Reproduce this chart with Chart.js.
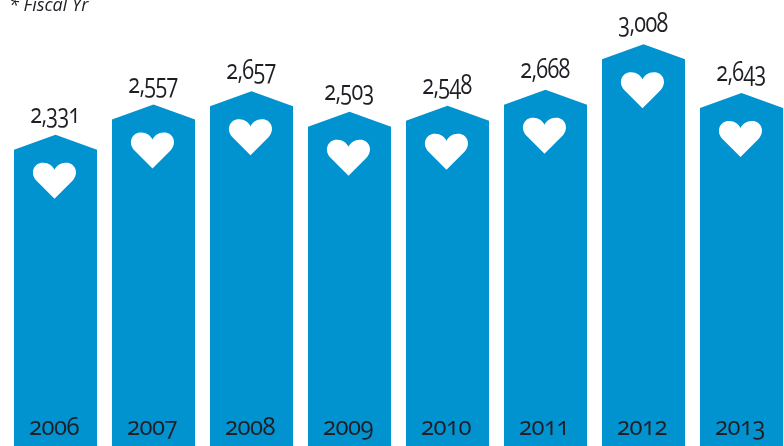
<!DOCTYPE html>
<html>
<head>
<meta charset="utf-8">
<title>Fiscal year totals</title>
<style>
  html, body { margin: 0; padding: 0; background: #fff; overflow: hidden; }
  #wrap { position: relative; width: 784px; height: 446px; overflow: hidden; }
  #mycanvas { position: absolute; left: 0; top: 0; }
  .txt {
    position: absolute;
    font-family: "Open Sans", sans-serif;
    font-feature-settings: "onum" 1, "lnum" 0;
    color: #1f1e24;
    white-space: nowrap;
  }
  .val { font-size: 27px; line-height: 30px; letter-spacing: -0.8px; transform: translateX(-50%) scaleX(0.8); }
  .year { font-size: 26px; line-height: 30px; letter-spacing: -0.6px; top: 410px; transform: translateX(-50%) scaleX(0.92); }
  #note { position: absolute; left: 9px; top: -6px; font: italic 18px/20px "Open Sans", sans-serif; color: #1f1e24; }
</style>
<script src="https://cdn.jsdelivr.net/npm/chart.js@4/dist/chart.umd.min.js"></script>
</head>
<body>
<div id="wrap">
  <canvas id="mycanvas" width="797" height="446"></canvas>
  <div id="note">* Fiscal Yr</div>
</div>
<script>
var years = ["2006", "2007", "2008", "2009", "2010", "2011", "2012", "2013"];
var totals = [2331, 2557, 2657, 2503, 2548, 2668, 3008, 2643];
var valueLabels = ["2,331", "2,557", "2,657", "2,503", "2,548", "2,668", "3,008", "2,643"];

var BLUE = "#0093d0";
var ROOF = 15;

// bar with a pitched roof and a heart cut out below it
class HouseBar extends Chart.BarElement {
	static id = "houseBar";
	draw(ctx) {
		var p = this.getProps(["x", "y", "base", "width"]);
		var l = p.x - p.width / 2, r = p.x + p.width / 2;
		ctx.save();
		ctx.fillStyle = this.options.backgroundColor;
		ctx.beginPath();
		ctx.moveTo(l, p.base);
		ctx.lineTo(l, p.y + ROOF);
		ctx.lineTo(p.x, p.y);
		ctx.lineTo(r, p.y + ROOF);
		ctx.lineTo(r, p.base);
		ctx.closePath();
		ctx.fill();
		drawHeart(ctx, p.x - 1, p.y + 28);
		ctx.restore();
	}
}

function drawHeart(ctx, cx, top) {
	ctx.fillStyle = "#fff";
	ctx.beginPath();
	ctx.moveTo(cx, top + 36);
	ctx.lineTo(cx - 18, top + 18);
	ctx.bezierCurveTo(cx - 26, top + 9, cx - 19, top - 1, cx - 11, top);
	ctx.bezierCurveTo(cx - 6, top, cx - 2, top + 3, cx, top + 7);
	ctx.bezierCurveTo(cx + 2, top + 3, cx + 6, top, cx + 11, top);
	ctx.bezierCurveTo(cx + 19, top - 1, cx + 26, top + 9, cx + 18, top + 18);
	ctx.closePath();
	ctx.fill();
}

class HouseController extends Chart.BarController {
	static id = "house";
	static defaults = Object.assign({}, Chart.BarController.defaults, { dataElementType: "houseBar" });
}

Chart.register(HouseBar, HouseController);

var chart = new Chart(document.getElementById("mycanvas"), {
	type: "house",
	data: {
		labels: years,
		datasets: [{
			label: "total",
			data: totals,
			backgroundColor: BLUE,
			barPercentage: 83 / 98,
			categoryPercentage: 1
		}]
	},
	options: {
		responsive: false,
		animation: false,
		layout: { padding: { left: 6.5, right: 6.5, top: 0, bottom: 0 } },
		plugins: { legend: { display: false }, tooltip: { enabled: false } },
		scales: {
			x: { type: "category", display: false },
			y: { type: "linear", display: false, min: 0, max: 3340 }
		}
	}
});

// numbers sit in the DOM so they can use old-style figures
var wrap = document.getElementById("wrap");
function addText(cls, str, x, top) {
	var d = document.createElement("div");
	d.className = "txt " + cls;
	d.textContent = str;
	d.style.left = x + "px";
	if (top !== null) d.style.top = top + "px";
	wrap.appendChild(d);
}

var bars = chart.getDatasetMeta(0).data;
for (var i in bars) {
	addText("val", valueLabels[i], bars[i].x - 1, bars[i].y - 37);
	addText("year", years[i], bars[i].x - 2, null);
}
</script>
</body>
</html>
